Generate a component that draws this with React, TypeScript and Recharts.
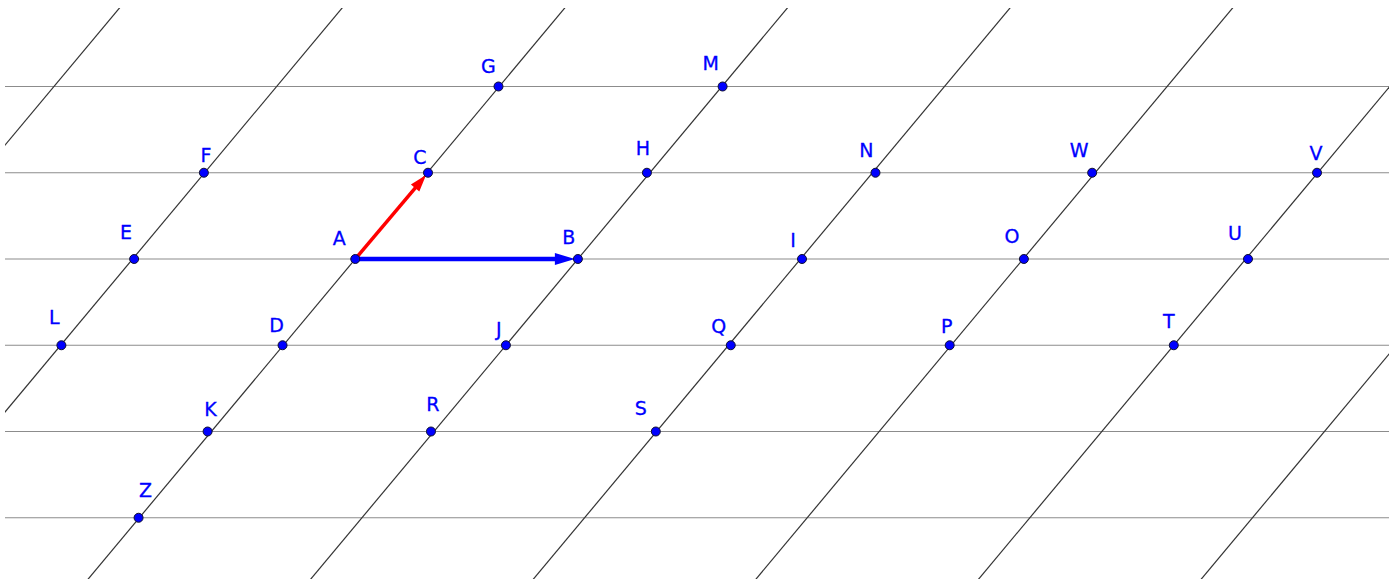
import { ScatterChart, Scatter, XAxis, YAxis, ReferenceLine } from "recharts";

// lattice points: A at the origin, AB is 3 units along x,
// one unit of y is the gap between two horizontal lines
const pointNames = ["G", "M", "F", "C", "H", "N", "W", "V", "E", "A", "B", "I", "O", "U", "L", "D", "J", "Q", "P", "T", "K", "R", "S", "Z"];
const pointX = [1.93, 4.95, -2.04, 0.98, 3.93, 7.01, 9.93, 12.96, -2.98, 0, 3, 6.02, 9.01, 12.03, -3.96, -0.98, 2.03, 5.06, 8.01, 11.03, -1.99, 1.02, 4.05, -2.92];
const pointY = [2, 2, 1, 1, 1, 1, 1, 1, 0, 0, 0, 0, 0, 0, -1, -1, -1, -1, -1, -1, -2, -2, -2, -3];

// horizontal lines (y values) and slanted lines (x where they cross y = 0)
const rows = [2, 1, 0, -1, -2, -3];
const slantCrossings = [-6, -3, 0, 3, 6, 9, 12, 15];
const slantPerUnit = 0.97;

// the two vectors
const vectors = [
	{ from: "A", to: "C", color: "#ff0000" },
	{ from: "A", to: "B", color: "#0000ff" },
];

const points = pointNames.map((name, i) => ({ name, x: pointX[i], y: pointY[i] }));
const byName = (n: string) => points.find((p) => p.name === n)!;

// label placement relative to its point, [dx of text centre, dy of baseline] in px
const labelOffset: Record<string, [number, number]> = {
	A: [-16, -14], B: [-9, -15], C: [-8, -9], D: [-6, -13], E: [-8, -20],
	F: [2, -11], G: [-10, -13], H: [-4, -18], I: [-9, -12], J: [-7, -9],
	K: [3, -16], L: [-7, -21], M: [-12, -16], N: [-9, -16], O: [-12, -16],
	P: [-3, -12], Q: [-12, -12], R: [2, -21], S: [-15, -17], T: [-5, -17],
	U: [-13, -19], V: [-1, -13], W: [-13, -16], Z: [7, -21],
};

const FONT = "DejaVu Sans";

function PointShape(props: any) {
	const { cx, cy, payload } = props;
	const [dx, dy] = labelOffset[payload.name] || [-8, -14];
	return (
		<g>
			<circle cx={cx} cy={cy} r={4.5} fill="#0000ff" stroke="#101030" strokeWidth={1} />
			<text
				x={cx + dx}
				y={cy + dy}
				textAnchor="middle"
				fontFamily={FONT}
				fontSize={19}
				stroke="#0000ff"
				strokeWidth={0.3}
				fill="#0000ff">
				{payload.name}
			</text>
		</g>
	);
}

function arrowShape(color: string, width: number, headLen: number, headWidth: number) {
	return (props: any) => {
		const { x1, y1, x2, y2 } = props;
		const len = Math.hypot(x2 - x1, y2 - y1) || 1;
		const ux = (x2 - x1) / len;
		const uy = (y2 - y1) / len;
		const tipX = x2 - ux * 3;
		const tipY = y2 - uy * 3;
		const bx = tipX - ux * headLen;
		const by = tipY - uy * headLen;
		const hw = headWidth / 2;
		return (
			<g>
				<line x1={x1} y1={y1} x2={bx + ux * 2} y2={by + uy * 2} stroke={color} strokeWidth={width} />
				<polygon
					points={`${tipX},${tipY} ${bx - uy * hw},${by + ux * hw} ${bx + uy * hw},${by - ux * hw}`}
					fill={color}
				/>
			</g>
		);
	};
}

export default function App() {
	return (
		<div style={{ position: "absolute", left: 0, top: 0, width: 1399, height: 583, background: "#fff" }}>
			<ScatterChart
				width={1399}
				height={583}
				margin={{ top: 8, right: 10, bottom: 4, left: 5 }}>
				<XAxis type="number" dataKey="x" domain={[-4.72, 13.93]} hide allowDataOverflow />
				<YAxis type="number" dataKey="y" domain={[-3.71, 2.91]} hide allowDataOverflow />
				{rows.map((r) => (
					<ReferenceLine key={`h${r}`} y={r} stroke="#8c8c8c" strokeWidth={1.2} />
				))}
				{slantCrossings.map((c) => (
					<ReferenceLine
						key={`s${c}`}
						segment={[
							{ x: c - slantPerUnit * 4.5, y: -4.5 },
							{ x: c + slantPerUnit * 3.5, y: 3.5 },
						]}
						ifOverflow="hidden"
						stroke="#333333"
						strokeWidth={1.2}
					/>
				))}
				{vectors.map((v) => {
					const a = byName(v.from);
					const b = byName(v.to);
					const thick = v.to === "B";
					return (
						<ReferenceLine
							key={`v${v.to}`}
							segment={[
								{ x: a.x, y: a.y },
								{ x: b.x, y: b.y },
							]}
							ifOverflow="visible"
							shape={arrowShape(v.color, thick ? 4.5 : 3.5, thick ? 20 : 17, thick ? 12 : 11)}
						/>
					);
				})}
				<Scatter data={points} shape={<PointShape />} isAnimationActive={false} />
			</ScatterChart>
		</div>
	);
}
